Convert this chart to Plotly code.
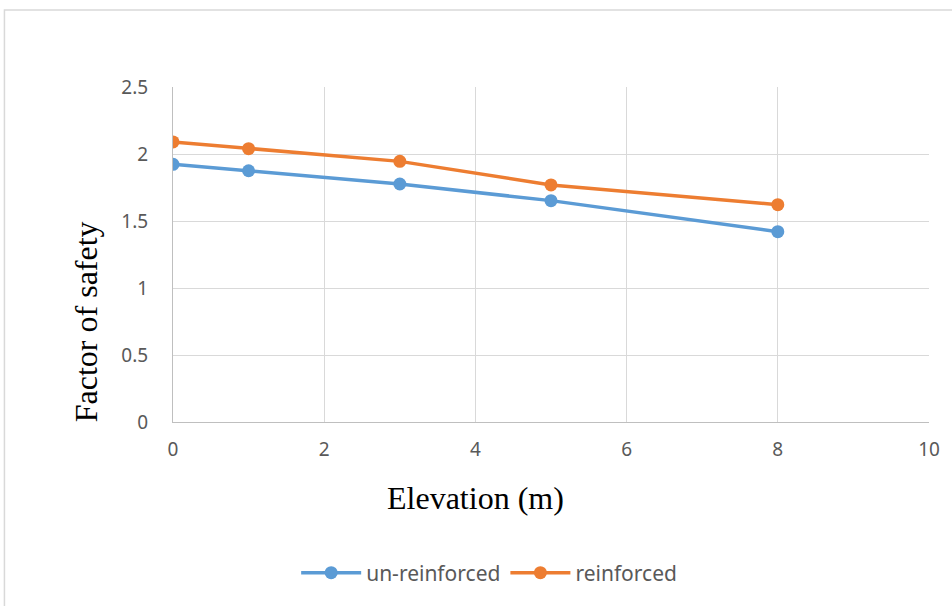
import plotly.graph_objects as go

# Factor of safety against elevation, with and without reinforcement
elevation = [0, 1, 3, 5, 8]
fs_unreinforced = [1.923, 1.875, 1.776, 1.652, 1.42]
fs_reinforced = [2.09, 2.04, 1.945, 1.769, 1.622]

x_ticks = [0, 2, 4, 6, 8, 10]
y_ticks = [0, 0.5, 1, 1.5, 2, 2.5]
y_tick_text = ["0", "0.5", "1", "1.5", "2", "2.5"]

tick_font = dict(family="Noto Sans, Liberation Sans, sans-serif", size=19, color="#595959")
legend_font = dict(family="Noto Sans, Liberation Sans, sans-serif", size=21, color="#595959")
title_font = dict(family="Liberation Serif, Times New Roman, serif", size=32, color="#000000")

fig = go.Figure()
fig.add_trace(go.Scatter(
    x=elevation, y=fs_unreinforced, name="un-reinforced", mode="lines+markers",
    line=dict(color="#5b9bd5", width=3.5), marker=dict(color="#5b9bd5", size=13),
))
fig.add_trace(go.Scatter(
    x=elevation, y=fs_reinforced, name="reinforced", mode="lines+markers",
    line=dict(color="#ed7d31", width=3.5), marker=dict(color="#ed7d31", size=13),
))

W, H = 952, 606
ml, mr, mt, mb = 173, 21, 87, 184
pw, ph = W - ml - mr, H - mt - mb

def px_x(p):
    return (p - ml) / pw

def px_y(p):
    return (H - mb - p) / ph

fig.update_layout(
    width=W, height=H,
    margin=dict(l=ml, r=mr, t=mt, b=mb),
    paper_bgcolor="white", plot_bgcolor="white",
    showlegend=True,
    legend=dict(
        orientation="h", x=px_x(490), y=px_y(573), xanchor="center", yanchor="middle",
        font=legend_font, itemwidth=60, tracegroupgap=0,
    ),
    xaxis=dict(
        range=[0, 10], tickvals=x_ticks, showgrid=True, gridcolor="#d9d9d9", gridwidth=1,
        zeroline=False, showline=True, linecolor="#bfbfbf", linewidth=1,
        tickfont=tick_font, ticks="", ticklabelstandoff=10,
    ),
    yaxis=dict(
        range=[0, 2.5], tickvals=y_ticks, ticktext=y_tick_text, showgrid=True,
        gridcolor="#d9d9d9", gridwidth=1, zeroline=False, showline=True,
        linecolor="#bfbfbf", linewidth=1, tickfont=tick_font, ticks="",
        ticklabelstandoff=20,
    ),
    annotations=[
        dict(text="Elevation (m)", xref="paper", yref="paper", x=px_x(476), y=px_y(498),
             showarrow=False, font=title_font, xanchor="center", yanchor="middle"),
        dict(text="Factor of safety", xref="paper", yref="paper", x=px_x(86), y=px_y(322),
             showarrow=False, font=title_font, textangle=-90, xanchor="center", yanchor="middle"),
    ],
    shapes=[
        dict(type="rect", xref="paper", yref="paper",
             x0=px_x(4), x1=px_x(W + 20), y0=px_y(H + 20), y1=px_y(10),
             line=dict(color="#d9d9d9", width=1.5), fillcolor="rgba(0,0,0,0)", layer="below"),
    ],
)

fig.write_html("out.html")
